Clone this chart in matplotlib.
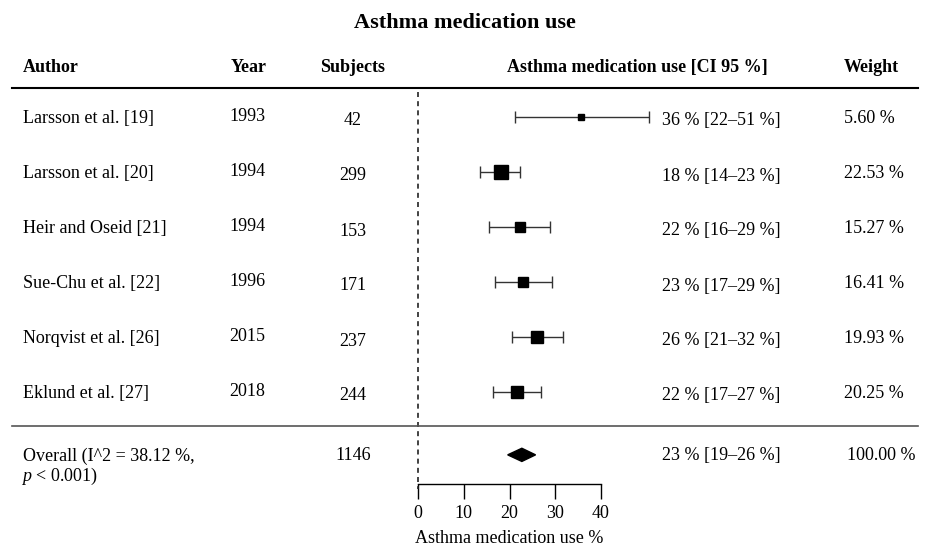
import numpy as np
import matplotlib
matplotlib.use("Agg")
from matplotlib import pyplot as plt
from matplotlib import transforms
from matplotlib.patches import Polygon

plt.rcParams['font.family'] = ['Liberation Serif', 'DejaVu Serif']
plt.rcParams['mathtext.fontset'] = 'custom'
plt.rcParams['mathtext.rm'] = 'Liberation Serif'
plt.rcParams['mathtext.it'] = 'Liberation Serif:italic'

# Data
authors = ["Larsson et al. [19]", "Larsson et al. [20]", "Heir and Oseid [21]",
           "Sue-Chu et al. [22]", "Norqvist et al. [26]", "Eklund et al. [27]"]
years = ["1993", "1994", "1994", "1996", "2015", "2018"]
subjects = ["42", "299", "153", "171", "237", "244"]
est = [35.6, 18.1, 22.3, 23.0, 26.0, 21.6]
lo = [21.3, 13.5, 15.6, 16.8, 20.5, 16.5]
hi = [50.4, 22.4, 28.9, 29.3, 31.8, 26.9]
ci_text = ["36 % [22–51 %]", "18 % [14–23 %]", "22 % [16–29 %]",
           "23 % [17–29 %]", "26 % [21–32 %]", "22 % [17–27 %]"]
weights = [5.60, 22.53, 15.27, 16.41, 19.93, 20.25]
weight_text = ["5.60 %", "22.53 %", "15.27 %", "16.41 %", "19.93 %", "20.25 %"]

overall_label = ["Overall (I^2 = 38.12 %,", "$p$ < 0.001)"]
overall_subjects = "1146"
overall_est, overall_lo, overall_hi = 22.7, 19.6, 25.7
overall_ci = "23 % [19–26 %]"
overall_weight = "100.00 %"

headers = ["Author", "Year", "Subjects", "Asthma medication use [CI 95 %]", "Weight"]
xticks = [0, 10, 20, 30, 40]

# Layout (pixels of a 930x547 figure)
W, H = 930, 547
fs = 13
y_overall = 6.15
y_sep = 5.63
y_top = -0.52
y_axis = 6.68
y_head = -0.9

fig = plt.figure(figsize=(W/100, H/100), dpi=100)
ax = fig.add_axes([418/W, 1 - 484/H, (601-418)/W, (484-88)/H])
ax.set_xlim(0, 40)
ax.set_ylim(y_axis, y_top)
for s in ["top", "right", "left"]:
    ax.spines[s].set_visible(False)
ax.spines["bottom"].set_linewidth(1.0)
ax.set_yticks([])
ax.set_xticks(xticks)
ax.tick_params(axis='x', direction='out', length=10.8, width=1.0,
               labelsize=fs, pad=4)
ax.set_xlabel("Asthma medication use %", fontsize=fs, labelpad=6)

# Blended transform: x in figure pixels fraction, y in data
tr = transforms.blended_transform_factory(fig.transFigure, ax.transData)

def px(x):
    return x / W

rows = np.arange(len(authors))

# Reference line
ax.plot([0, 0], [y_top + 0.07, y_axis + 0.1], ls=(0, (3, 2.5)), color="#222222",
        lw=1.2, clip_on=False)

# Whiskers and squares
eb = ax.errorbar(est, rows,
                 xerr=[np.array(est) - np.array(lo), np.array(hi) - np.array(est)],
                 fmt='none', ecolor="#333333", elinewidth=1.0, capsize=4,
                 capthick=1.0)
for art in eb.lines[1] + eb.lines[2]:
    art.set_clip_on(False)
sizes = 9.4 * (np.array(weights) / max(weights)) ** 0.6
for x, y, s in zip(est, rows, sizes):
    ax.plot(x, y, marker='s', ms=s, color='black', ls='none', clip_on=False)

# Overall diamond
dh = 0.12
diamond = Polygon([[overall_lo, y_overall], [overall_est, y_overall - dh],
                   [overall_hi, y_overall], [overall_est, y_overall + dh]],
                  closed=True, color='black', clip_on=False)
ax.add_patch(diamond)

# Horizontal rules
ax.plot([px(12), px(918)], [y_top, y_top], color='black', lw=1.5,
        transform=tr, clip_on=False)
ax.plot([px(12), px(918)], [y_sep, y_sep], color='#555555', lw=1.2,
        transform=tr, clip_on=False)

# Headers
hx = [(23, 'left'), (249, 'center'), (353, 'center'), (637, 'center'), (844, 'left')]
for h, (x, ha) in zip(headers, hx):
    ax.text(px(x), y_head, h, transform=tr, ha=ha, va='center',
            fontsize=fs, fontweight='bold')

# Row texts
for i in rows:
    ax.text(px(23), i + 0.04, authors[i], transform=tr, ha='left', va='center', fontsize=fs)
    ax.text(px(247), i + 0.0, years[i], transform=tr, ha='center', va='center', fontsize=fs)
    ax.text(px(353), i + 0.08, subjects[i], transform=tr, ha='center', va='center', fontsize=fs)
    ax.text(px(662), i + 0.08, ci_text[i], transform=tr, ha='left', va='center', fontsize=fs)
    ax.text(px(844), i + 0.03, weight_text[i], transform=tr, ha='left', va='center', fontsize=fs)

# Overall row
ax.text(px(23), y_overall + 0.03, overall_label[0], transform=tr, ha='left', va='center', fontsize=fs)
ax.text(px(21), y_overall + 0.40, overall_label[1], transform=tr, ha='left', va='center', fontsize=fs)
ax.text(px(353), y_overall + 0.02, overall_subjects, transform=tr, ha='center', va='center', fontsize=fs)
ax.text(px(662), y_overall + 0.02, overall_ci, transform=tr, ha='left', va='center', fontsize=fs)
ax.text(px(847), y_overall + 0.02, overall_weight, transform=tr, ha='left', va='center', fontsize=fs)

fig.text(px(465), 1 - 23/H, "Asthma medication use", ha='center', va='center',
         fontsize=16, fontweight='bold')

fig.savefig("out.png", dpi=100)
